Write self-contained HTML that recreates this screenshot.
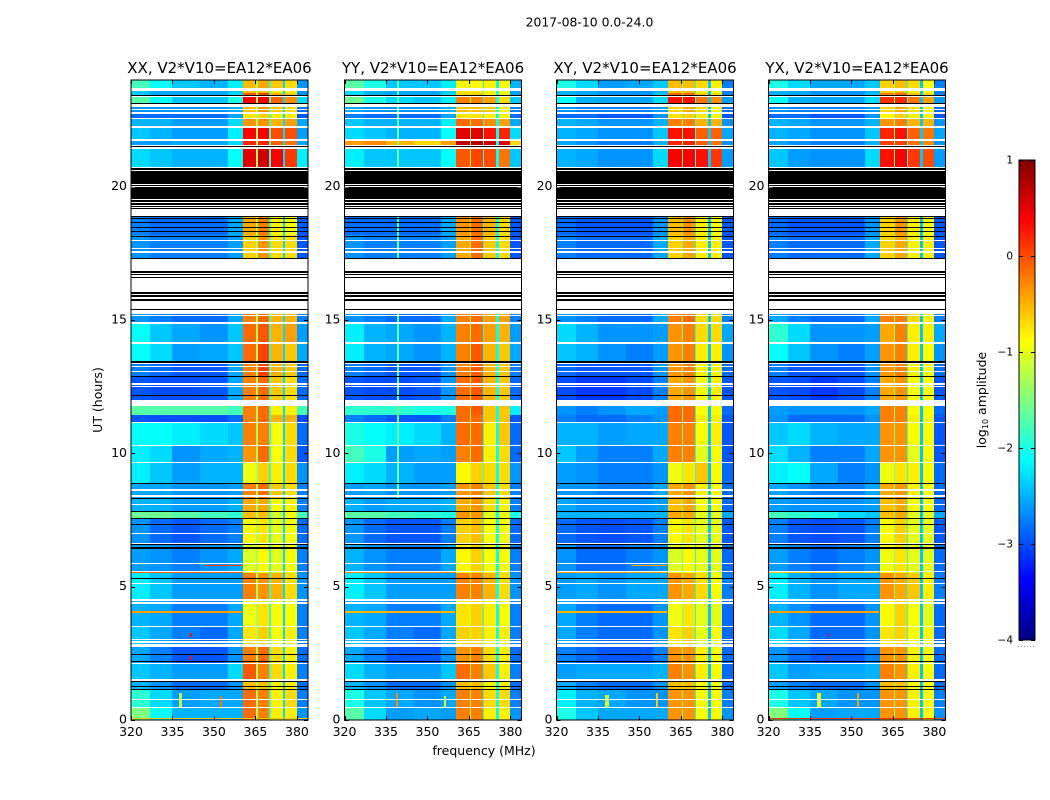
<!DOCTYPE html>
<html>
<head>
<meta charset="utf-8">
<title>2017-08-10 0.0-24.0</title>
<style>
html,body{margin:0;padding:0;background:#fff;}
svg{display:block;font-family:"DejaVu Sans","Liberation Sans",sans-serif;fill:#000;}
</style>
</head>
<body>
<svg id="chart" xmlns="http://www.w3.org/2000/svg" width="1050" height="800" viewBox="0 0 1050 800">
<rect x="0" y="0" width="1050" height="800" fill="#fff"/>
<text x="589.5" y="26.5" font-size="12.4" text-anchor="middle">2017-08-10 0.0-24.0</text>
<text x="484" y="755" font-size="12.5" text-anchor="middle">frequency (MHz)</text>
<text transform="translate(102,400) rotate(-90)" font-size="12.5" text-anchor="middle">UT (hours)</text>
<text transform="translate(986,400) rotate(-90)" font-size="12.5" text-anchor="middle">log<tspan font-size="8" dy="2">10</tspan><tspan dy="-2"> amplitude</tspan></text>
<g id="panels"></g>
<g id="colorbar"></g>
</svg>
<script>
// Heatmap time-row edges in UT hours (top to bottom)
const rowEdges = [24,23.60,23.51,23.36,23.00,22.71,22.54,22.19,21.71,21.40,20.59,18.87,18.19,17.33,15.23,14.86,14.09,13.35,12.86,11.78,11.45,11.16,10.29,9.66,8.87,8.29,7.82,7.56,6.56,5.53,4.50,3.53,2.74,2.14,1.46,1.13,0.45,0];
// Heatmap frequency-column edges in MHz
const freqEdges = [320,327,335,345,355,360.4,365.2,370,375,380,384];
// Narrow channels between the bright bands, MHz
const gapChannels = [[365.2,365.8],[369.9,370.6],[374.9,375.7]];

// log10 amplitudes, one row per time interval, one value per frequency column
const xxRows = [
[-1.8,-2.1,-2.4,-2.5,-2.2,-0.55,-0.45,-0.6,-0.7,-2.65],
[-2.4,-2.55,-2.55,-2.55,-2.4,-0.55,-0.55,-0.8,-0.8,-2.65],
[-2.4,-2.55,-2.55,-2.55,-2.3,-0.05,0.05,-0.5,-0.6,-2.65],
[-1.7,-2.1,-2.4,-2.4,-2.0,0.4,0.4,-0.1,-0.3,-2.3],
[-2.65,-2.65,-2.65,-2.65,-2.5,-0.55,-0.35,-0.6,-0.7,-2.85],
[-2.85,-2.85,-2.85,-2.85,-2.55,-0.75,-0.65,-0.8,-0.8,-2.95],
[-2.5,-2.5,-2.6,-2.6,-2.3,-0.35,-0.35,-0.5,-0.4,-2.55],
[-2.4,-2.5,-2.6,-2.6,-2.2,0.4,0.4,0.0,0.0,-2.6],
[-2.6,-2.6,-2.55,-2.55,-2.3,0.2,0.2,-0.1,-0.2,-2.55],
[-2.3,-2.4,-2.5,-2.5,-2.1,0.5,0.6,0.4,0.1,-2.2],
[-2.85,-2.85,-2.85,-2.85,-2.85,-0.55,-0.55,-0.7,-0.7,-2.85],
[-2.75,-2.85,-2.85,-2.85,-2.55,-0.45,-0.25,-0.8,-0.9,-2.95],
[-2.65,-2.75,-2.75,-2.75,-2.6,-0.65,-0.35,-0.7,-0.7,-2.95],
[-2.85,-2.85,-2.85,-2.85,-2.85,-0.55,-0.55,-0.7,-0.7,-2.85],
[-2.65,-2.75,-2.85,-2.85,-2.55,-0.25,-0.15,-0.5,-0.5,-2.75],
[-2.1,-2.4,-2.55,-2.65,-2.4,-0.15,-0.05,-0.5,-0.4,-2.6],
[-2.1,-2.3,-2.6,-2.55,-2.4,-0.15,0.05,-0.5,-0.6,-2.55],
[-2.75,-2.85,-2.95,-2.95,-2.55,-0.25,0.05,-0.5,-0.6,-2.85],
[-2.95,-3.0,-3.0,-2.95,-2.55,-0.25,-0.15,-0.6,-0.7,-2.85],
[-1.7,-1.7,-1.7,-1.7,-1.8,-0.25,-0.15,-0.8,-0.8,-1.8],
[-2.95,-3.0,-3.0,-3.0,-2.85,-0.25,-0.15,-0.5,-0.5,-3.0],
[-2.1,-2.1,-2.2,-2.3,-2.4,-0.25,-0.25,-0.9,-0.7,-2.85],
[-2.2,-2.3,-2.65,-2.55,-2.5,-0.35,-0.15,-0.9,-0.7,-2.95],
[-2.2,-2.4,-2.6,-2.5,-2.5,-0.95,-0.65,-0.8,-0.7,-2.65],
[-2.55,-2.55,-2.65,-2.65,-2.6,-0.25,-0.15,-0.6,-0.7,-2.75],
[-2.5,-2.5,-2.6,-2.6,-2.5,-0.45,-0.45,-0.9,-0.8,-2.75],
[-1.6,-1.6,-1.7,-1.8,-1.9,-0.55,-0.55,-1.1,-0.9,-1.8],
[-2.65,-2.85,-2.95,-2.85,-2.75,-0.85,-0.75,-1.0,-0.9,-2.85],
[-2.6,-2.65,-2.75,-2.65,-2.55,-1.05,-0.85,-1.0,-0.9,-2.75],
[-2.2,-2.4,-2.6,-2.6,-2.6,-0.25,-0.35,-0.5,-0.7,-2.65],
[-2.5,-2.55,-2.75,-2.75,-2.55,-0.95,-0.75,-0.9,-0.9,-2.75],
[-2.4,-2.55,-2.75,-2.85,-2.55,-0.75,-0.65,-0.9,-0.8,-2.75],
[-2.55,-2.75,-2.95,-2.95,-2.65,-0.25,-0.15,-0.7,-0.8,-2.85],
[-2.4,-2.5,-2.6,-2.6,-2.3,-0.05,-0.25,-0.7,-0.8,-2.75],
[-2.5,-2.65,-2.85,-2.85,-2.65,-0.55,-0.55,-0.8,-0.8,-2.85],
[-1.9,-2.3,-2.6,-2.55,-2.55,-0.15,-0.25,-0.8,-0.7,-2.75],
[-1.5,-2.1,-2.5,-2.5,-2.5,-0.15,-0.25,-0.8,-0.8,-2.65]
];
const yyRows = [
[-1.7,-2.0,-2.4,-2.4,-2.2,-0.85,-0.85,-0.8,-0.9,-2.5],
[-2.3,-2.5,-2.55,-2.55,-2.4,-0.75,-0.75,-0.8,-0.9,-2.6],
[-2.3,-2.5,-2.55,-2.55,-2.3,-0.65,-0.65,-0.8,-0.9,-2.6],
[-1.6,-2.0,-2.3,-2.4,-2.2,-0.25,-0.25,-0.4,-0.7,-2.4],
[-2.55,-2.65,-2.65,-2.65,-2.5,-0.55,-0.55,-0.6,-0.8,-2.75],
[-2.75,-2.85,-2.85,-2.85,-2.55,-0.75,-0.75,-0.8,-0.9,-2.85],
[-2.4,-2.5,-2.5,-2.5,-2.2,-0.15,-0.15,-0.3,-0.4,-2.55],
[-2.3,-2.4,-2.5,-2.5,-2.1,0.5,0.5,0.3,0.2,-2.3],
[-0.4,-0.3,-0.5,-0.7,-0.4,0.7,0.7,0.6,0.5,-0.7],
[-2.2,-2.4,-2.4,-2.4,-2.1,-0.05,0.05,0.0,-0.2,-2.4],
[-2.85,-2.85,-2.85,-2.85,-2.85,-0.55,-0.55,-0.7,-0.7,-2.85],
[-2.85,-2.85,-2.85,-2.85,-2.55,-0.35,-0.15,-0.5,-0.7,-2.95],
[-2.65,-2.75,-2.75,-2.75,-2.6,-0.45,-0.15,-0.6,-0.7,-2.95],
[-2.85,-2.85,-2.85,-2.85,-2.85,-0.55,-0.55,-0.7,-0.7,-2.85],
[-2.65,-2.75,-2.85,-2.85,-2.55,-0.25,-0.15,-0.4,-0.4,-2.75],
[-2.2,-2.5,-2.55,-2.65,-2.5,-0.25,-0.15,-0.4,-0.5,-2.6],
[-2.2,-2.5,-2.55,-2.65,-2.5,-0.25,-0.05,-0.5,-0.6,-2.55],
[-2.75,-2.85,-2.95,-2.95,-2.65,-0.25,-0.05,-0.5,-0.6,-2.75],
[-2.95,-3.0,-3.0,-2.95,-2.65,-0.15,-0.05,-0.5,-0.6,-2.85],
[-1.9,-1.9,-1.9,-2.0,-2.0,-0.15,-0.05,-0.6,-0.6,-2.2],
[-2.75,-2.85,-2.95,-2.95,-2.75,-0.15,-0.15,-0.6,-0.6,-2.95],
[-2.0,-2.1,-2.2,-2.3,-2.5,-0.15,-0.15,-0.8,-0.6,-2.85],
[-1.8,-2.0,-2.6,-2.55,-2.6,-0.25,-0.15,-0.8,-0.7,-2.85],
[-2.2,-2.3,-2.5,-2.6,-2.6,-0.85,-0.65,-0.7,-0.7,-2.65],
[-2.6,-2.55,-2.65,-2.65,-2.6,-0.35,-0.25,-0.6,-0.7,-2.75],
[-2.5,-2.6,-2.55,-2.55,-2.5,-0.45,-0.35,-0.7,-0.8,-2.75],
[-1.7,-1.7,-1.8,-1.9,-2.0,-0.35,-0.35,-1.0,-0.9,-2.0],
[-2.65,-2.85,-2.95,-2.95,-2.75,-0.65,-0.55,-0.9,-0.9,-2.85],
[-2.5,-2.65,-2.75,-2.75,-2.55,-0.85,-0.65,-0.9,-0.9,-2.75],
[-2.2,-2.4,-2.6,-2.6,-2.6,-0.25,-0.25,-0.5,-0.7,-2.65],
[-2.5,-2.55,-2.75,-2.75,-2.55,-0.75,-0.65,-0.8,-0.9,-2.75],
[-2.4,-2.55,-2.75,-2.85,-2.55,-0.65,-0.65,-0.8,-0.8,-2.75],
[-2.55,-2.75,-2.95,-2.95,-2.65,-0.35,-0.25,-0.7,-0.8,-2.85],
[-2.3,-2.5,-2.6,-2.6,-2.4,-0.15,-0.25,-0.6,-0.8,-2.75],
[-2.5,-2.65,-2.85,-2.85,-2.65,-0.55,-0.55,-0.8,-0.8,-2.85],
[-2.0,-2.4,-2.55,-2.65,-2.55,-0.25,-0.25,-0.7,-0.7,-2.75],
[-1.7,-2.3,-2.6,-2.55,-2.6,-0.25,-0.25,-0.8,-0.8,-2.65]
];
const xyRows = [
[-2.0,-2.3,-2.6,-2.55,-2.4,-0.55,-0.55,-0.7,-0.8,-2.75],
[-2.5,-2.55,-2.65,-2.65,-2.5,-0.55,-0.55,-0.8,-0.9,-2.75],
[-2.5,-2.55,-2.65,-2.65,-2.4,-0.15,-0.15,-0.6,-0.7,-2.75],
[-2.1,-2.5,-2.55,-2.55,-2.3,0.3,0.3,-0.2,-0.3,-2.6],
[-2.65,-2.75,-2.75,-2.75,-2.6,-0.65,-0.45,-0.7,-0.8,-2.85],
[-2.85,-2.85,-2.95,-2.95,-2.65,-0.75,-0.65,-0.8,-0.9,-2.95],
[-2.5,-2.55,-2.65,-2.65,-2.5,-0.25,-0.25,-0.5,-0.5,-2.65],
[-2.5,-2.55,-2.65,-2.65,-2.4,0.3,0.3,-0.1,-0.1,-2.55],
[-2.55,-2.65,-2.75,-2.75,-2.5,0.2,0.2,-0.1,-0.2,-2.65],
[-2.5,-2.55,-2.65,-2.65,-2.3,0.4,0.4,0.3,0.1,-2.6],
[-2.85,-2.85,-2.85,-2.85,-2.85,-0.55,-0.55,-0.7,-0.7,-2.85],
[-2.85,-2.95,-2.95,-2.95,-2.65,-0.55,-0.35,-0.8,-0.9,-2.95],
[-2.75,-2.85,-2.85,-2.85,-2.55,-0.65,-0.45,-0.8,-0.8,-2.95],
[-2.85,-2.85,-2.85,-2.85,-2.85,-0.55,-0.55,-0.7,-0.7,-2.85],
[-2.65,-2.75,-2.85,-2.85,-2.55,-0.25,-0.15,-0.7,-0.7,-2.75],
[-2.3,-2.5,-2.65,-2.65,-2.6,-0.35,-0.25,-0.7,-0.7,-2.55],
[-2.4,-2.5,-2.65,-2.75,-2.6,-0.35,-0.25,-0.8,-0.8,-2.65],
[-2.85,-2.95,-2.95,-2.95,-2.65,-0.35,-0.25,-0.8,-0.8,-2.85],
[-3.0,-3.1,-3.1,-3.0,-2.75,-0.45,-0.35,-0.9,-0.8,-2.95],
[-2.65,-2.75,-2.65,-2.55,-2.6,-0.15,-0.15,-0.9,-0.9,-2.85],
[-2.75,-2.85,-2.85,-2.75,-2.65,-0.15,-0.15,-0.8,-0.8,-2.95],
[-2.5,-2.5,-2.6,-2.55,-2.55,-0.25,-0.25,-0.9,-0.8,-2.95],
[-2.4,-2.6,-2.75,-2.75,-2.55,-0.25,-0.25,-1.0,-0.9,-2.95],
[-2.6,-2.65,-2.75,-2.75,-2.65,-0.95,-0.75,-0.6,-0.9,-2.85],
[-2.65,-2.65,-2.75,-2.75,-2.55,-0.45,-0.35,-0.8,-0.9,-2.85],
[-2.55,-2.65,-2.65,-2.65,-2.6,-0.55,-0.45,-0.9,-0.9,-2.85],
[-2.5,-2.5,-2.5,-2.5,-2.5,-0.45,-0.45,-1.0,-1.0,-2.55],
[-2.85,-2.95,-3.0,-2.95,-2.75,-0.85,-0.75,-1.0,-1.0,-2.95],
[-2.65,-2.85,-2.85,-2.75,-2.65,-1.05,-0.85,-1.0,-1.0,-2.85],
[-2.6,-2.55,-2.65,-2.55,-2.55,-0.35,-0.45,-0.7,-0.9,-2.75],
[-2.55,-2.75,-2.85,-2.85,-2.65,-0.95,-0.75,-1.0,-1.0,-2.85],
[-2.55,-2.75,-2.85,-2.85,-2.65,-0.75,-0.65,-1.0,-0.9,-2.85],
[-2.75,-2.85,-2.95,-2.95,-2.75,-0.35,-0.35,-0.8,-0.9,-2.85],
[-2.6,-2.55,-2.55,-2.55,-2.5,-0.25,-0.35,-0.8,-0.9,-2.85],
[-2.55,-2.75,-2.85,-2.85,-2.65,-0.55,-0.55,-0.9,-0.9,-2.85],
[-2.2,-2.5,-2.55,-2.65,-2.65,-0.35,-0.35,-0.9,-0.9,-2.75],
[-2.0,-2.4,-2.55,-2.55,-2.55,-0.35,-0.35,-0.9,-0.9,-2.65]
];
const yxRows = [
[-2.0,-2.3,-2.55,-2.55,-2.4,-0.65,-0.55,-0.7,-0.9,-2.75],
[-2.5,-2.55,-2.65,-2.65,-2.5,-0.65,-0.55,-0.8,-0.9,-2.75],
[-2.5,-2.55,-2.65,-2.65,-2.4,-0.25,-0.15,-0.6,-0.7,-2.75],
[-2.1,-2.5,-2.55,-2.55,-2.3,0.15,0.2,-0.2,-0.4,-2.6],
[-2.65,-2.75,-2.75,-2.75,-2.6,-0.65,-0.45,-0.7,-0.8,-2.85],
[-2.85,-2.85,-2.95,-2.95,-2.65,-0.85,-0.65,-0.8,-0.9,-2.95],
[-2.5,-2.55,-2.65,-2.65,-2.5,-0.35,-0.25,-0.5,-0.5,-2.65],
[-2.5,-2.55,-2.65,-2.65,-2.4,0.2,0.3,-0.1,-0.2,-2.55],
[-2.55,-2.65,-2.75,-2.75,-2.5,0.05,0.05,-0.2,-0.3,-2.65],
[-2.4,-2.6,-2.65,-2.65,-2.3,0.3,0.4,0.1,0.0,-2.6],
[-2.85,-2.85,-2.85,-2.85,-2.85,-0.55,-0.55,-0.7,-0.7,-2.85],
[-2.85,-2.95,-2.95,-2.95,-2.65,-0.65,-0.35,-0.8,-0.9,-2.95],
[-2.75,-2.85,-2.85,-2.85,-2.55,-0.65,-0.45,-0.8,-0.8,-2.95],
[-2.85,-2.85,-2.85,-2.85,-2.85,-0.55,-0.55,-0.7,-0.7,-2.85],
[-2.55,-2.75,-2.85,-2.85,-2.55,-0.25,-0.25,-0.7,-0.8,-2.75],
[-1.9,-2.3,-2.65,-2.65,-2.6,-0.45,-0.25,-0.8,-0.8,-2.55],
[-2.1,-2.4,-2.65,-2.75,-2.6,-0.35,-0.25,-0.8,-0.9,-2.65],
[-2.75,-2.95,-2.95,-2.95,-2.65,-0.35,-0.25,-0.8,-0.9,-2.85],
[-2.95,-3.0,-3.1,-3.0,-2.75,-0.45,-0.35,-0.9,-0.9,-2.95],
[-2.6,-2.65,-2.65,-2.65,-2.55,-0.25,-0.25,-0.9,-0.9,-2.85],
[-2.65,-2.85,-2.85,-2.85,-2.65,-0.25,-0.25,-0.8,-0.9,-2.95],
[-2.4,-2.3,-2.5,-2.55,-2.55,-0.35,-0.35,-0.9,-0.9,-2.95],
[-2.3,-2.5,-2.75,-2.75,-2.55,-0.35,-0.35,-1.0,-0.9,-2.95],
[-2.2,-2.1,-2.55,-2.75,-2.65,-0.95,-0.75,-0.8,-0.9,-2.85],
[-2.55,-2.65,-2.75,-2.75,-2.55,-0.45,-0.35,-0.8,-0.9,-2.85],
[-2.6,-2.65,-2.65,-2.65,-2.6,-0.55,-0.45,-0.9,-0.9,-2.85],
[-1.8,-1.9,-2.0,-2.3,-2.4,-0.55,-0.45,-1.0,-1.0,-2.55],
[-2.75,-2.95,-3.0,-2.95,-2.75,-0.85,-0.65,-1.0,-1.0,-2.95],
[-2.6,-2.75,-2.85,-2.75,-2.65,-0.95,-0.75,-1.0,-1.0,-2.85],
[-2.2,-2.5,-2.65,-2.55,-2.55,-0.35,-0.45,-0.6,-0.8,-2.75],
[-2.5,-2.65,-2.85,-2.85,-2.65,-0.85,-0.65,-0.9,-1.0,-2.85],
[-2.3,-2.55,-2.85,-2.85,-2.65,-0.75,-0.65,-0.9,-0.9,-2.85],
[-2.65,-2.85,-2.95,-2.95,-2.75,-0.35,-0.35,-0.8,-0.9,-2.85],
[-2.4,-2.6,-2.55,-2.55,-2.5,-0.25,-0.35,-0.8,-0.9,-2.85],
[-2.6,-2.75,-2.85,-2.85,-2.65,-0.55,-0.55,-0.9,-0.9,-2.85],
[-2.0,-2.4,-2.55,-2.65,-2.65,-0.35,-0.35,-0.8,-0.9,-2.75],
[-1.5,-2.1,-2.6,-2.55,-2.55,-0.35,-0.35,-0.8,-0.9,-2.65]
];
// Per-panel level of the narrow channels between bands
const xxGapLevels = [-1.3,-1.9,-2.3];
const yyGapLevels = [-1.2,-2.0,-2.1];
const xyGapLevels = [-1.6,-2.0,-2.4];
const yxGapLevels = [-1.5,-2.0,-2.4];

// Flagged time ranges [low hour, high hour]
const whiteBands = [[23.60,23.69],[23.36,23.44],[23.00,23.10],[22.88,22.91],[22.71,22.81],[22.54,22.56],[22.19,22.28],[21.71,21.78],[21.40,21.55],[20.58,20.73],[19.99,20.11],[19.51,19.54],[19.39,19.43],[19.29,19.32],[19.21,19.25],[18.90,19.17],[17.96,18.00],[17.66,17.70],[17.53,17.57],[15.23,17.33],[15.15,15.19],[14.86,14.94],[14.09,14.16],[13.34,13.40],[13.22,13.26],[13.05,13.09],[12.58,12.62],[12.51,12.54],[11.78,11.99],[11.14,11.18],[10.29,10.31],[9.64,9.68],[8.60,8.65],[8.38,8.42],[8.06,8.10],[6.98,7.01],[6.56,6.63],[5.84,5.87],[5.55,5.59],[5.13,5.15],[4.47,4.53],[4.35,4.43],[3.50,3.54],[2.99,3.04],[2.88,2.95],[2.74,2.84],[2.10,2.14],[1.45,1.53],[1.25,1.27],[0.75,0.79],[0.45,0.48]];
const blackBands = [[23.42,23.44],[23.10,23.12],[21.49,21.53],[20.64,20.70],[20.11,20.58],[20.06,20.08],[19.54,19.99],[19.43,19.51],[19.32,19.39],[19.25,19.29],[19.17,19.21],[18.87,18.90],[18.79,18.82],[18.63,18.67],[18.45,18.49],[18.29,18.33],[18.11,18.15],[17.31,17.34],[16.78,16.83],[16.68,16.73],[16.56,16.60],[15.99,16.04],[15.85,15.95],[15.73,15.77],[15.38,15.41],[13.40,13.46],[12.86,12.90],[12.15,12.19],[8.84,8.87],[8.29,8.32],[7.80,7.84],[7.52,7.56],[7.31,7.35],[6.56,6.60],[6.43,6.47],[5.31,5.34],[2.42,2.46],[2.19,2.23],[1.44,1.48],[1.22,1.26],[1.11,1.16]];

// Narrow interference features: [panel, low MHz, high MHz, low hour, high hour, log10 amplitude]
const rfiStreaks = [
[0,320,360,5.50,5.54,-0.1],[1,320,360,5.50,5.54,-0.3],[2,320,360,5.50,5.54,-0.4],[3,320,360,5.50,5.54,-0.6],
[0,320,360,4.03,4.07,-0.4],[1,320,360,4.03,4.07,-0.5],[2,320,360,4.03,4.07,-0.5],[3,320,360,4.03,4.07,-0.4],
[0,347,360,5.77,5.82,0.1],[2,347,360,5.77,5.82,-0.4],
[0,320,384,0.05,0.09,-0.6],[3,320,384,0.05,0.09,0.1],
[0,337.5,338.5,0.50,1.00,-1.2],[1,338.5,339.5,0.45,1.00,-0.3],[2,337.5,339,0.50,0.95,-1.1],[3,337.5,339,0.50,1.00,-1.0],
[0,352,352.8,0.45,0.90,-0.2],[1,356,356.8,0.45,0.90,-1.0],[2,356,356.8,0.45,1.00,-0.6],[3,352,352.8,0.45,1.00,-0.4],
[1,339,339.6,8.30,24,-1.6],
[0,341.5,342,3.10,3.25,0.3],[0,341.5,342,2.25,2.40,0.3],
[3,341.5,342,3.10,3.25,0.4],[3,341.5,342,2.25,2.40,0.4]
];

// Axis ticks and labels
const freqTicks = [320,335,350,365,380];
const hourTicks = [0,5,10,15,20];
const colorbarTicks = [1,0,-1,-2,-3,-4];
const panelTitles = ['XX, V2*V10=EA12*EA06','YY, V2*V10=EA12*EA06','XY, V2*V10=EA12*EA06','YX, V2*V10=EA12*EA06'];

const SVGNS = 'http://www.w3.org/2000/svg';
const panelLefts = [131,344.5,556.5,768.5];
const PANEL_W = 177, PANEL_TOP = 80, PANEL_BOTTOM = 720;
const VMIN = -4, VMAX = 1;

function clamp01(v){ return Math.max(0, Math.min(1, v)); }
function jet(v){
  const t = clamp01((v - VMIN) / (VMAX - VMIN));
  const r = clamp01(1.5 - Math.abs(4 * t - 3));
  const g = clamp01(1.5 - Math.abs(4 * t - 2));
  const b = clamp01(1.5 - Math.abs(4 * t - 1));
  return 'rgb(' + Math.round(r * 255) + ',' + Math.round(g * 255) + ',' + Math.round(b * 255) + ')';
}
function yScale(h){ return PANEL_BOTTOM - (h / 24) * (PANEL_BOTTOM - PANEL_TOP); }
function xScale(left, f){ return left + ((f - 320) / 64) * PANEL_W; }
function mk(tag, parent, props){
  const el = document.createElementNS(SVGNS, tag);
  for (const k in props) el.setAttribute(k, props[k]);
  parent.appendChild(el);
  return el;
}
function band(parent, x0, x1, hLow, hHigh, fill){
  const y0 = Math.round(yScale(hHigh));
  const y1 = Math.max(y0 + 1, Math.round(yScale(hLow)));
  return mk('rect', parent, {x: x0, y: y0, width: x1 - x0, height: y1 - y0, fill: fill, 'shape-rendering': 'crispEdges'});
}

function drawPanel(index, rows, gapLevels){
  const left = panelLefts[index];
  const right = left + PANEL_W;
  const root = document.getElementById('panels');
  const g = mk('g', root, {});
  
  

  const cells = mk('g', g, {});
  
  
  rows.forEach(function(row, r){
    row.forEach(function(value, c){
      const x0 = Math.round(xScale(left, freqEdges[c]));
      const x1 = Math.round(xScale(left, freqEdges[c + 1]));
      const cell = band(cells, x0, x1, rowEdges[r + 1], rowEdges[r], jet(value));
      
      
    });
  });
  gapChannels.forEach(function(ch, i){
    const x0 = Math.round(xScale(left, ch[0]));
    const gap = band(cells, x0, x0 + Math.max(1, Math.round(xScale(left, ch[1])) - x0), 0, 24, jet(gapLevels[i]));
    
    
  });
  rfiStreaks.forEach(function(s){
    if (s[0] !== index) return;
    const x0 = Math.round(xScale(left, s[1]));
    const st = band(cells, x0, x0 + Math.max(1, Math.round(xScale(left, s[2])) - x0), s[3], s[4], jet(s[5]));
    
    
  });
  whiteBands.forEach(function(b){
    const w = band(g, left, right, b[0], b[1], '#fff');
    
    
  });
  blackBands.forEach(function(b){
    const k = band(g, left, right, b[0], b[1], '#000');
    
    
  });

  const frame = mk('rect', g, {x: left, y: PANEL_TOP, width: PANEL_W, height: PANEL_BOTTOM - PANEL_TOP, fill: 'none', stroke: '#000', 'stroke-width': 1});
  
  

  freqTicks.forEach(function(f){
    const x = Math.round(xScale(left, f)) + 0.5;
    mk('line', g, {x1: x, x2: x, y1: PANEL_BOTTOM, y2: PANEL_BOTTOM - 4, stroke: '#000'});
    mk('line', g, {x1: x, x2: x, y1: PANEL_TOP, y2: PANEL_TOP + 4, stroke: '#000'});
    const t = mk('text', g, {x: xScale(left, f), y: 736, 'font-size': 12.5, 'text-anchor': 'middle'});
    t.textContent = String(f);
    
    
  });
  hourTicks.forEach(function(h){
    const y = Math.round(yScale(h)) + 0.5;
    mk('line', g, {x1: left, x2: left + 4, y1: y, y2: y, stroke: h === 20 ? '#666' : '#000'});
    mk('line', g, {x1: right, x2: right - 4, y1: y, y2: y, stroke: h === 20 ? '#666' : '#000'});
    const t = mk('text', g, {x: left - 4, y: yScale(h) + 3.5, 'font-size': 12.5, 'text-anchor': 'end'});
    t.textContent = String(h);
    
    
  });
  const title = mk('text', g, {x: left + PANEL_W / 2, y: 73, 'font-size': 15, 'text-anchor': 'middle'});
  title.textContent = panelTitles[index];
  
  
}

function drawColorbar(){
  const root = document.getElementById('colorbar');
  const L = 1019, R = 1035, T = 160, B = 640;
  const yc = function(v){ return B - ((v - VMIN) / (VMAX - VMIN)) * (B - T); };
  for (let y = T; y < B; y++) {
    const v = VMIN + ((B - y - 0.5) / (B - T)) * (VMAX - VMIN);
    const s = mk('rect', root, {x: L, y: y, width: R - L, height: 1, fill: jet(v), 'shape-rendering': 'crispEdges'});
    
    
  }
  const f = mk('rect', root, {x: L, y: T, width: R - L, height: B - T, fill: 'none', stroke: '#000', 'stroke-width': 1});
  
  
  colorbarTicks.forEach(function(v){
    const y = Math.round(yc(v)) + 0.5;
    mk('line', root, {x1: L, x2: L + 4, y1: y, y2: y, stroke: '#000'});
    mk('line', root, {x1: R, x2: R - 4, y1: y, y2: y, stroke: '#000'});
    const t = mk('text', root, {x: 1013, y: yc(v) + 3.5, 'font-size': 10.5, 'text-anchor': 'end'});
    t.textContent = v < 0 ? '\u2212' + Math.abs(v) : String(v);
    
    
  });
  const dots = mk('line', root, {x1: 1018, x2: 1035, y1: 646.5, y2: 646.5, stroke: '#888', 'stroke-dasharray': '1 2'});
  
  
}

drawPanel(0, xxRows, xxGapLevels);
drawPanel(1, yyRows, yyGapLevels);
drawPanel(2, xyRows, xyGapLevels);
drawPanel(3, yxRows, yxGapLevels);
drawColorbar();
</script>
</body>
</html>
